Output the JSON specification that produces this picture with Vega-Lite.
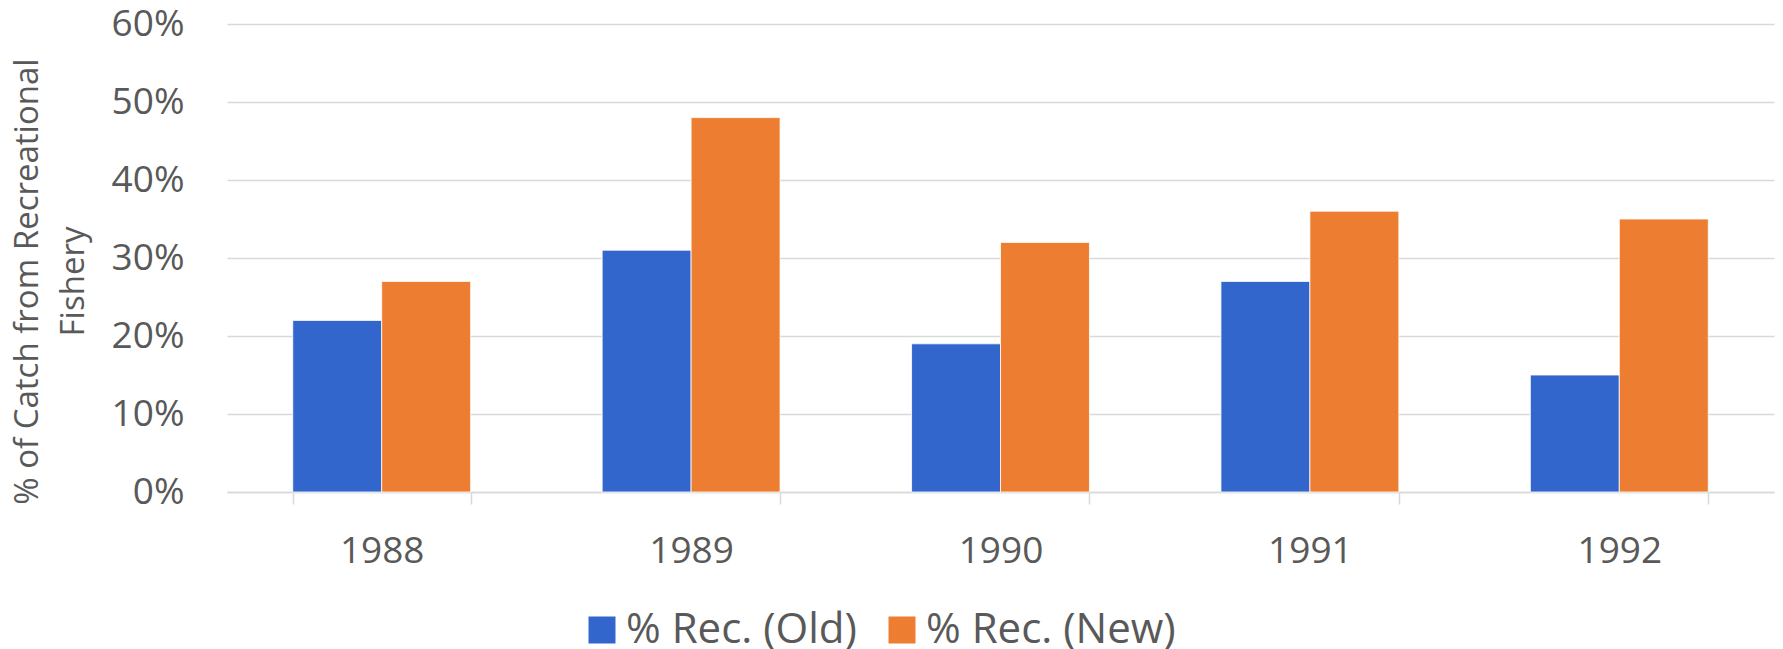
{
  "$schema": "https://vega.github.io/schema/vega-lite/v6.json",
  "width": 1547,
  "height": 468,
  "autosize": {"type": "none"},
  "padding": {"left": 227, "top": 24, "right": 9, "bottom": 157},
  "background": "white",
  "config": {
    "font": "Open Sans",
    "view": {"stroke": null},
    "axis": {"labelColor": "#595959", "titleColor": "#595959", "labelFont": "Open Sans", "titleFont": "Open Sans"},
    "legend": {"labelColor": "#595959", "labelFont": "Open Sans"}
  },
  "data": {
    "values": [
      {"year": "1988", "series": "% Rec. (Old)", "value": 0.22},
      {"year": "1988", "series": "% Rec. (New)", "value": 0.27},
      {"year": "1989", "series": "% Rec. (Old)", "value": 0.31},
      {"year": "1989", "series": "% Rec. (New)", "value": 0.48},
      {"year": "1990", "series": "% Rec. (Old)", "value": 0.19},
      {"year": "1990", "series": "% Rec. (New)", "value": 0.32},
      {"year": "1991", "series": "% Rec. (Old)", "value": 0.27},
      {"year": "1991", "series": "% Rec. (New)", "value": 0.36},
      {"year": "1992", "series": "% Rec. (Old)", "value": 0.15},
      {"year": "1992", "series": "% Rec. (New)", "value": 0.35}
    ]
  },
  "mark": {"type": "bar", "stroke": "white", "strokeWidth": 0.8},
  "encoding": {
    "x": {
      "field": "year",
      "type": "ordinal",
      "scale": {"paddingInner": 0.425, "paddingOuter": 0.2125},
      "axis": {
        "title": null,
        "labelAngle": 0,
        "labelFontSize": 37,
        "labelPadding": 29,
        "labelBaseline": "top",
        "domainColor": "#d9d9d9",
        "domainWidth": 1.5,
        "ticks": true,
        "tickBand": "extent",
        "tickColor": "#d9d9d9",
        "tickWidth": 1.5,
        "tickSize": 12,
        "grid": false
      }
    },
    "xOffset": {
      "field": "series",
      "type": "nominal",
      "sort": ["% Rec. (Old)", "% Rec. (New)"],
      "scale": {"paddingInner": 0, "paddingOuter": 0}
    },
    "y": {
      "field": "value",
      "type": "quantitative",
      "scale": {"domain": [0, 0.6], "nice": false},
      "axis": {
        "values": [0, 0.1, 0.2, 0.3, 0.4, 0.5, 0.6],
        "format": ".0%",
        "labelFontSize": 37,
        "labelPadding": 43,
        "ticks": false,
        "domain": false,
        "grid": true,
        "gridColor": "#d9d9d9",
        "gridWidth": 1.5,
        "title": ["% of Catch from Recreational", "Fishery"],
        "titleFontSize": 33,
        "titleFontWeight": "normal",
        "titleAngle": -90,
        "titleAlign": "center",
        "titleBaseline": "middle",
        "titleLineHeight": 46,
        "titleX": -200,
        "titleY": 257
      }
    },
    "color": {
      "field": "series",
      "type": "nominal",
      "sort": ["% Rec. (Old)", "% Rec. (New)"],
      "scale": {"domain": ["% Rec. (Old)", "% Rec. (New)"], "range": ["#3366cc", "#ed7d31"]},
      "legend": {
        "title": null,
        "orient": "none",
        "direction": "horizontal",
        "legendX": 354,
        "legendY": 585,
        "symbolType": "square",
        "symbolSize": 729,
        "symbolStrokeWidth": 0,
        "symbolOpacity": 1,
        "labelFontSize": 42,
        "labelOffset": 3,
        "columnPadding": 24,
        "labelLimit": 400
      }
    }
  }
}
